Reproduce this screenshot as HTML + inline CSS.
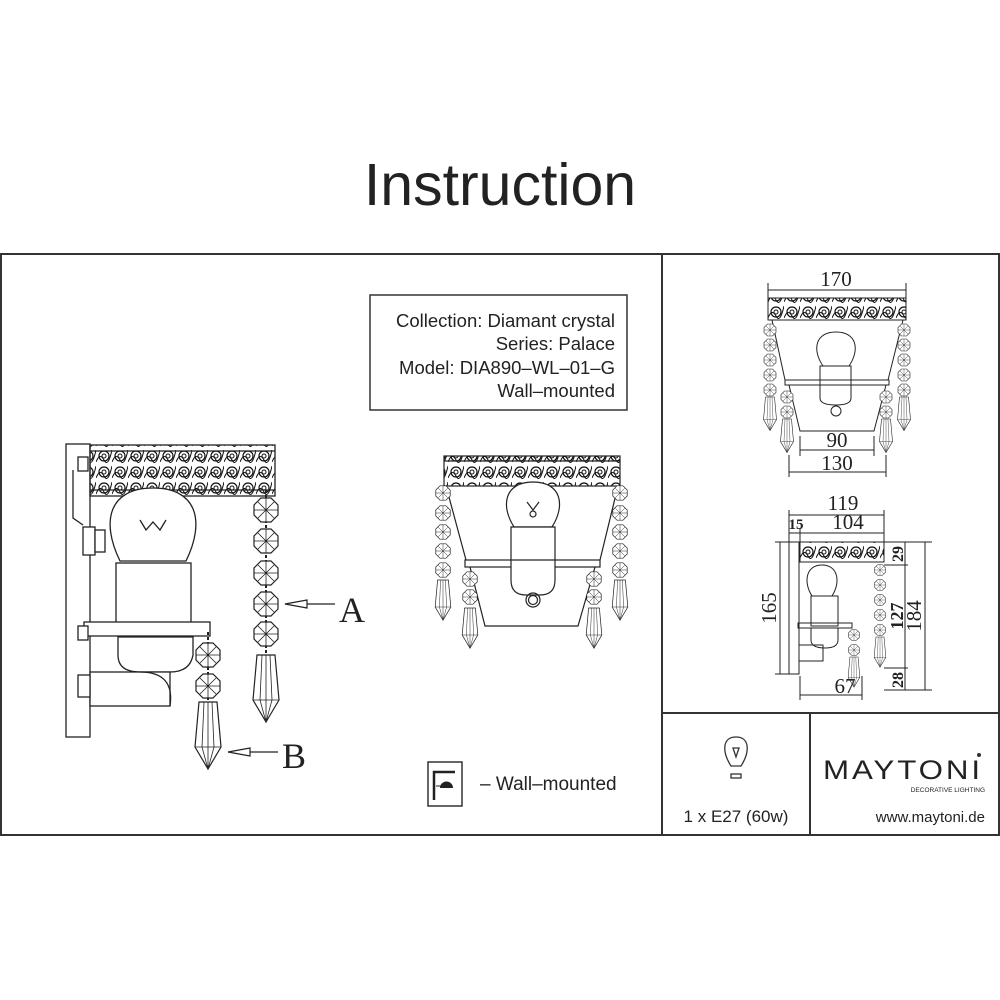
<!DOCTYPE html>
<html><head><meta charset="utf-8"><style>
html,body{margin:0;padding:0;background:#fff;}
svg{display:block;}
text{font-family:"Liberation Sans",sans-serif;fill:#222;}
.s{font-family:"Liberation Serif",serif;}
</style></head><body>
<svg width="1000" height="1000" viewBox="0 0 1000 1000" xmlns="http://www.w3.org/2000/svg">
<defs>
<pattern id="orn" width="16" height="16" patternUnits="userSpaceOnUse">
<circle cx="8" cy="8" r="5" fill="none" stroke="#111" stroke-width="1.2"/>
<circle cx="8" cy="8" r="2" fill="none" stroke="#111" stroke-width="1"/>
<path d="M0 14 Q4 4 8 12 T16 2" fill="none" stroke="#111" stroke-width="1"/>
</pattern>
<g id="oct" fill="#fff" stroke="#222" stroke-width="1.2">
<polygon points="12,5 5,12 -5,12 -12,5 -12,-5 -5,-12 5,-12 12,-5"/>
<path d="M-12,0H12M0,-12V12M-8,-8L8,8M-8,8L8,-8" stroke-width="0.8"/>
</g>
<g id="pen" fill="#fff" stroke="#222" stroke-width="1.2">
<polygon points="-9,0 9,0 13,45 0,67 -13,45"/>
<path d="M-4,0L-6,45L0,67L6,45L4,0M-13,45H13M0,0V67" fill="none" stroke-width="0.8"/>
</g>
</defs>

<text x="500" y="205" font-size="59" text-anchor="middle">Instruction</text>

<rect x="1" y="254" width="998" height="581" fill="none" stroke="#333" stroke-width="2"/>
<line x1="662" y1="254" x2="662" y2="835" stroke="#333" stroke-width="2"/>
<line x1="662" y1="713" x2="1000" y2="713" stroke="#333" stroke-width="2"/>
<line x1="810" y1="713" x2="810" y2="835" stroke="#333" stroke-width="2"/>

<rect x="370" y="295" width="257" height="115" fill="none" stroke="#333" stroke-width="1.5"/>
<g font-size="18.5" text-anchor="end">
<text x="615" y="327">Collection: Diamant crystal</text>
<text x="615" y="350">Series: Palace</text>
<text x="615" y="374">Model: DIA890–WL–01–G</text>
<text x="615" y="397">Wall–mounted</text>
</g>

<g stroke="#222" stroke-width="1.3" fill="#fff">
<rect x="66" y="444" width="24" height="293"/>
<rect x="90" y="445" width="185" height="51" fill="url(#orn)"/>
<line x1="90" y1="451" x2="275" y2="451"/><line x1="90" y1="490" x2="275" y2="490"/>
<path d="M120,561 C100,520 110,488 153,488 C196,488 206,520 186,561 Z"/>
<path d="M140,520 L146,530 L153,522 L160,530 L166,520" fill="none"/>
<rect x="116" y="563" width="75" height="72"/>
<rect x="84" y="622" width="126" height="14"/>
<path d="M118,637 L193,637 L193,655 Q190,672 170,672 L140,672 Q118,672 118,655 Z"/>
<rect x="90" y="672" width="80" height="34"/>
<path d="M140,672 Q175,672 170,706" fill="none"/>
<rect x="78" y="457" width="10" height="14"/><rect x="78" y="626" width="10" height="14"/>
<rect x="78" y="675" width="12" height="22"/>
<rect x="83" y="527" width="12" height="28"/><rect x="95" y="530" width="10" height="22"/>
<path d="M73,470 V518 L83,525" fill="none"/>
</g>
<line x1="266" y1="490" x2="266" y2="656" stroke="#222" stroke-width="2" stroke-dasharray="3,2"/>
<use href="#oct" x="266" y="510"/><use href="#oct" x="266" y="541"/><use href="#oct" x="266" y="573"/><use href="#oct" x="266" y="604"/><use href="#oct" x="266" y="634"/>
<use href="#pen" x="266" y="655"/>
<line x1="208" y1="632" x2="208" y2="702" stroke="#222" stroke-width="2" stroke-dasharray="3,2"/>
<use href="#oct" x="208" y="655"/><use href="#oct" x="208" y="686"/>
<use href="#pen" x="208" y="702"/>
<line x1="335" y1="604" x2="297" y2="604" stroke="#222" stroke-width="1.3"/>
<polygon points="285,604 307,600 307,608" fill="#fff" stroke="#222" stroke-width="1.2"/>
<text class="s" x="339" y="622" font-size="36">A</text>
<line x1="278" y1="752" x2="242" y2="752" stroke="#222" stroke-width="1.3"/>
<polygon points="228,752 250,748 250,756" fill="#fff" stroke="#222" stroke-width="1.2"/>
<text class="s" x="282" y="768" font-size="36">B</text>

<g stroke="#222" stroke-width="1.2" fill="none">
<rect x="444" y="456" width="176" height="30" fill="url(#orn)"/>
<line x1="444" y1="461" x2="620" y2="461"/>
<path d="M446,486 L466,560 M618,486 L600,560"/>
<rect x="465" y="560" width="135" height="7"/>
<path d="M470,567 L485,626 L578,626 L595,567"/>
<path d="M514,527 C500,505 505,482 533,482 C561,482 566,505 552,527 Z" fill="#fff"/>
<path d="M527,502 L533,510 L539,502 M530,514 a3,3 0 1,0 6,0 a3,3 0 1,0 -6,0"/>
<path d="M511,527 H555 V580 Q555,595 540,595 H526 Q511,595 511,580 Z" fill="#fff"/>
<line x1="511" y1="560" x2="555" y2="560"/>
<circle cx="533" cy="600" r="7"/><circle cx="533" cy="600" r="4.5"/>
</g>
<g transform="translate(443,0)"><use href="#oct" transform="translate(0,493) scale(0.6)"/><use href="#oct" transform="translate(0,513) scale(0.6)"/><use href="#oct" transform="translate(0,532) scale(0.6)"/><use href="#oct" transform="translate(0,551) scale(0.6)"/><use href="#oct" transform="translate(0,570) scale(0.6)"/><use href="#pen" transform="translate(0,580) scale(0.6)"/></g>
<g transform="translate(620,0)"><use href="#oct" transform="translate(0,493) scale(0.6)"/><use href="#oct" transform="translate(0,513) scale(0.6)"/><use href="#oct" transform="translate(0,532) scale(0.6)"/><use href="#oct" transform="translate(0,551) scale(0.6)"/><use href="#oct" transform="translate(0,570) scale(0.6)"/><use href="#pen" transform="translate(0,580) scale(0.6)"/></g>
<g transform="translate(470,0)"><use href="#oct" transform="translate(0,579) scale(0.6)"/><use href="#oct" transform="translate(0,597) scale(0.6)"/><use href="#pen" transform="translate(0,608) scale(0.6)"/></g>
<g transform="translate(594,0)"><use href="#oct" transform="translate(0,579) scale(0.6)"/><use href="#oct" transform="translate(0,597) scale(0.6)"/><use href="#pen" transform="translate(0,608) scale(0.6)"/></g>

<g stroke="#222" stroke-width="1" fill="none">
<line x1="768" y1="290" x2="906" y2="290"/><line x1="768" y1="283" x2="768" y2="298"/><line x1="906" y1="283" x2="906" y2="298"/>
<rect x="768" y="298" width="138" height="22" fill="url(#orn)"/>
<path d="M772,320 L785,380 M903,320 L888,380"/>
<rect x="785" y="380" width="104" height="5"/>
<path d="M789,385 L800,431 L874,431 L886,385"/>
<path d="M823,366 C812,350 815,332 836,332 C857,332 860,350 849,366 Z"/>
<path d="M820,366 H851 V398 Q851,405 836,405 Q820,405 820,398 Z"/>
<circle cx="836" cy="411" r="5"/>
<line x1="800" y1="436" x2="800" y2="456"/><line x1="874" y1="436" x2="874" y2="456"/><line x1="800" y1="450" x2="874" y2="450"/>
<line x1="789" y1="455" x2="789" y2="477"/><line x1="886" y1="455" x2="886" y2="477"/><line x1="789" y1="472" x2="886" y2="472"/>
</g>
<g transform="translate(770,0)"><use href="#oct" transform="translate(0,330) scale(0.5)"/><use href="#oct" transform="translate(0,345) scale(0.5)"/><use href="#oct" transform="translate(0,360) scale(0.5)"/><use href="#oct" transform="translate(0,375) scale(0.5)"/><use href="#oct" transform="translate(0,390) scale(0.5)"/><use href="#pen" transform="translate(0,397) scale(0.5)"/></g>
<g transform="translate(904,0)"><use href="#oct" transform="translate(0,330) scale(0.5)"/><use href="#oct" transform="translate(0,345) scale(0.5)"/><use href="#oct" transform="translate(0,360) scale(0.5)"/><use href="#oct" transform="translate(0,375) scale(0.5)"/><use href="#oct" transform="translate(0,390) scale(0.5)"/><use href="#pen" transform="translate(0,397) scale(0.5)"/></g>
<g transform="translate(787,0)"><use href="#oct" transform="translate(0,397) scale(0.5)"/><use href="#oct" transform="translate(0,412) scale(0.5)"/><use href="#pen" transform="translate(0,419) scale(0.5)"/></g>
<g transform="translate(886,0)"><use href="#oct" transform="translate(0,397) scale(0.5)"/><use href="#oct" transform="translate(0,412) scale(0.5)"/><use href="#pen" transform="translate(0,419) scale(0.5)"/></g>
<g font-size="21" text-anchor="middle">
<text class="s" x="836" y="286">170</text>
<text class="s" x="837" y="447">90</text>
<text class="s" x="837" y="470">130</text>
</g>

<g stroke="#222" stroke-width="1" fill="none">
<line x1="789" y1="515" x2="884" y2="515"/><line x1="789" y1="510" x2="789" y2="542"/><line x1="884" y1="510" x2="884" y2="542"/>
<line x1="789" y1="533" x2="884" y2="533"/><line x1="800" y1="528" x2="800" y2="542"/>
<rect x="789" y="542" width="10" height="132"/>
<rect x="800" y="542" width="84" height="20" fill="url(#orn)"/>
<path d="M812,596 C803,582 806,565 822,565 C838,565 841,582 832,596 Z"/>
<rect x="811" y="596" width="27" height="30"/><rect x="798" y="623" width="54" height="5"/>
<path d="M811,628 H838 V640 Q838,648 825,648 Q811,648 811,640 Z"/>
<rect x="799" y="645" width="24" height="16"/>
<line x1="780" y1="542" x2="780" y2="674"/><line x1="775" y1="542" x2="789" y2="542"/><line x1="775" y1="674" x2="789" y2="674"/>
<line x1="925" y1="542" x2="925" y2="690"/><line x1="884" y1="542" x2="932" y2="542"/><line x1="884" y1="690" x2="932" y2="690"/>
<line x1="905" y1="542" x2="905" y2="690"/><line x1="884" y1="565" x2="908" y2="565"/><line x1="884" y1="668" x2="908" y2="668"/>
<line x1="800" y1="695" x2="862" y2="695"/><line x1="800" y1="676" x2="800" y2="700"/><line x1="862" y1="676" x2="862" y2="700"/>
</g>
<g transform="translate(880,0)"><use href="#oct" transform="translate(0,570) scale(0.45)"/><use href="#oct" transform="translate(0,585) scale(0.45)"/><use href="#oct" transform="translate(0,600) scale(0.45)"/><use href="#oct" transform="translate(0,615) scale(0.45)"/><use href="#oct" transform="translate(0,630) scale(0.45)"/><use href="#pen" transform="translate(0,637) scale(0.45)"/></g>
<g transform="translate(854,0)"><use href="#oct" transform="translate(0,635) scale(0.45)"/><use href="#oct" transform="translate(0,650) scale(0.45)"/><use href="#pen" transform="translate(0,657) scale(0.45)"/></g>
<g font-size="21" text-anchor="middle">
<text class="s" x="843" y="510">119</text>
<text class="s" x="848" y="529">104</text>
<text class="s" x="796" y="529" font-size="15" font-weight="bold">15</text>
<text class="s" x="845" y="693">67</text>
<text class="s" transform="translate(776,608) rotate(-90)">165</text>
<text class="s" transform="translate(921,616) rotate(-90)">184</text>
<text class="s" transform="translate(903,616) rotate(-90)" font-weight="bold" font-size="18">127</text>
<text class="s" transform="translate(903,554) rotate(-90)" font-weight="bold" font-size="16">29</text>
<text class="s" transform="translate(903,680) rotate(-90)" font-weight="bold" font-size="16">28</text>
</g>

<rect x="428" y="762" width="34" height="44" fill="none" stroke="#333" stroke-width="1.5"/>
<path d="M434,800 V772 H455" fill="none" stroke="#222" stroke-width="2.5"/>
<path d="M440,788 H453 A6,6 0 0,0 440,788 Z" fill="#222"/><line x1="436" y1="786" x2="441" y2="786" stroke="#222"/>
<text x="480" y="790" font-size="19">– Wall–mounted</text>
<path d="M731,766 C722,752 722,737 736,737 C750,737 750,752 741,766 Z M733,748 L739,748 L736,757 Z" fill="none" stroke="#333" stroke-width="1.3"/>
<rect x="731" y="774" width="10" height="4" fill="none" stroke="#333" stroke-width="1.3"/>
<text x="736" y="822" font-size="17" text-anchor="middle">1 x E27 (60w)</text>
<text x="823" y="779" font-size="27" letter-spacing="2.5" fill="#333" textLength="160" lengthAdjust="spacingAndGlyphs">MAYTONI</text>
<circle cx="979" cy="755" r="2" fill="#333"/>
<text x="985" y="792" font-size="6.5" text-anchor="end">DECORATIVE LIGHTING</text>
<text x="985" y="822" font-size="15" text-anchor="end">www.maytoni.de</text>
</svg>
</body></html>
